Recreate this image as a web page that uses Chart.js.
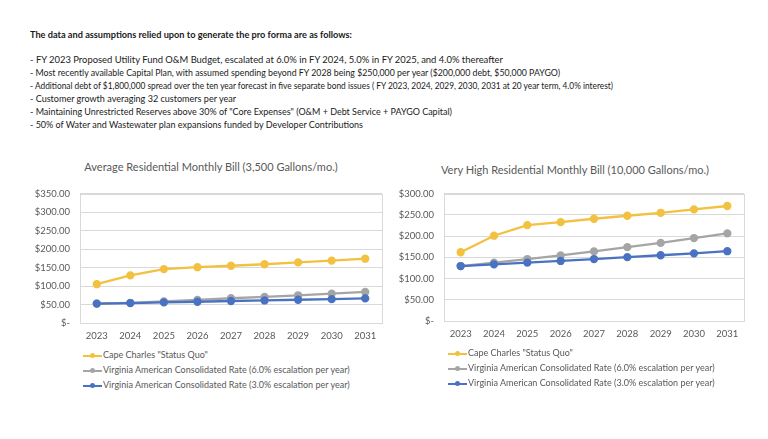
<!DOCTYPE html>
<html>
<head>
<meta charset="utf-8">
<script src="https://cdn.jsdelivr.net/npm/chart.js@4/dist/chart.umd.min.js"></script>
<style>
  body { margin: 0; width: 768px; height: 439px; background: #fff; position: relative; overflow: hidden; font-family: Lato, 'Open Sans', sans-serif; }
  .ln { position: absolute; left: 30px; white-space: nowrap; font-size: 9.5px; color: #1a1a1a; transform-origin: 0 50%; line-height: 12px; }
  .hd { font-weight: bold; }
  .ttl { position: absolute; white-space: nowrap; font-size: 11px; color: #595959; transform: translateX(-50%); line-height: 14px; }
  canvas { position: absolute; }
  .leg { position: absolute; font-size: 9px; color: #595959; }
  .leg div { height: 15px; line-height: 15px; white-space: nowrap; }
  .mk { display: inline-block; position: relative; width: 19px; height: 10px; vertical-align: middle; margin-right: 1px; }
  .mk i { position: absolute; left: 0; right: 0; top: 4px; height: 2px; }
  .mk b { position: absolute; left: 7px; top: 2.5px; width: 5px; height: 5px; border-radius: 50%; }
</style>
</head>
<body>
<div class="ln hd" style="top:29px" data-w="322">The data and assumptions relied upon to generate the pro forma are as follows:</div>
<div class="ln" style="top:54px" data-w="473">- FY 2023 Proposed Utility Fund O&amp;M Budget, escalated at 6.0% in FY 2024, 5.0% in FY 2025, and 4.0% thereafter</div>
<div class="ln" style="top:67px" data-w="530">- Most recently available Capital Plan, with assumed spending beyond FY 2028 being $250,000 per year ($200,000 debt, $50,000 PAYGO)</div>
<div class="ln" style="top:80px" data-w="583">- Additional debt of $1,800,000 spread over the ten year forecast in five separate bond issues ( FY 2023, 2024, 2029, 2030, 2031 at 20 year term, 4.0% interest)</div>
<div class="ln" style="top:93px" data-w="206">- Customer growth averaging 32 customers per year</div>
<div class="ln" style="top:106px" data-w="422">- Maintaining Unrestricted Reserves above 30% of "Core Expenses" (O&amp;M +  Debt Service + PAYGO Capital)</div>
<div class="ln" style="top:119px" data-w="333">- 50% of Water and Wastewater plan expansions funded by Developer Contributions</div>

<div class="ttl" style="left:211px; top:160px">Average Residential Monthly Bill (3,500 Gallons/mo.)</div>
<div class="ttl" style="left:575px; top:163px">Very High Residential Monthly Bill (10,000 Gallons/mo.)</div>

<canvas id="avgChart" width="372" height="167" style="left:20px; top:178px"></canvas>
<canvas id="highChart" width="370" height="167" style="left:385px; top:178px"></canvas>

<div class="leg" id="avgLegend" style="left:83px; top:347px"></div>
<div class="leg" id="highLegend" style="left:448px; top:345px"></div>

<script>
const years = ['2023', '2024', '2025', '2026', '2027', '2028', '2029', '2030', '2031'];
const seriesNames = [
  'Cape Charles "Status Quo"',
  'Virginia American Consolidated Rate (6.0% escalation per year)',
  'Virginia American Consolidated Rate (3.0% escalation per year)'
];
const seriesColors = ['#F3C140', '#A5A5A5', '#4A72C2'];

// average residential bill, 3,500 gallons
const avgStatusQuo = [105, 129, 146, 151, 155, 159, 164, 169, 174];
const avgVa6 = [52.5, 54.5, 58.5, 62.5, 67, 70.5, 75, 79.5, 84];
const avgVa3 = [52.5, 54, 56, 57.5, 59.5, 61, 63, 64.5, 66.5];

// very high residential bill, 10,000 gallons
const highStatusQuo = [162, 201, 226, 233, 241, 248, 255, 263, 271];
const highVa6 = [129.5, 137.5, 146, 154.5, 164, 174, 184, 195.5, 206.5];
const highVa3 = [129.5, 133.5, 137.5, 141.5, 146, 150.5, 155, 159.5, 164.5];

const avgMax = 350;
const highMax = 300;

const tickFont = { family: 'Lato', size: 9.5 };

// light box round the plot area
const frame = {
  id: 'frame',
  beforeDatasetsDraw(chart) {
    const a = chart.chartArea, ctx = chart.ctx;
    ctx.save();
    ctx.strokeStyle = '#d9d9d9';
    ctx.lineWidth = 1;
    ctx.strokeRect(Math.round(a.left) + 0.5, Math.round(a.top) + 0.5, Math.round(a.right - a.left), Math.round(a.bottom - a.top));
    ctx.restore();
  }
};

function money(v) {
  return v === 0 ? '$-' : '$' + v.toFixed(2);
}

function makeChart(el, data, max, yWidth, xHeight, pad) {
  return new Chart(el, {
    type: 'line',
    data: {
      labels: years,
      datasets: data.map((d, i) => ({
        label: seriesNames[i],
        data: d,
        borderColor: seriesColors[i],
        backgroundColor: seriesColors[i],
        borderWidth: 2.3,
        pointRadius: 3,
        pointHoverRadius: 3,
        fill: false,
        tension: 0,
        order: 2 - i
      }))
    },
    options: {
      responsive: false,
      animation: false,
      layout: { padding: pad },
      plugins: { legend: { display: false }, tooltip: { enabled: false } },
      scales: {
        x: {
          offset: true,
          grid: { display: false, drawTicks: false },
          border: { display: false },
          ticks: { color: '#595959', font: tickFont, padding: 7, maxRotation: 0 },
          afterFit(s) { s.height = xHeight; }
        },
        y: {
          min: 0,
          max: max,
          grid: { color: '#d9d9d9', drawTicks: false },
          border: { display: false },
          ticks: { stepSize: 50, color: '#595959', font: tickFont, padding: 10, callback: money },
          afterFit(s) { s.width = yWidth; }
        }
      }
    },
    plugins: [frame]
  });
}

function legend(el) {
  el.innerHTML = seriesNames.map((n, i) =>
    '<div><span class="mk"><i style="background:' + seriesColors[i] + '"></i><b style="background:' + seriesColors[i] + '"></b></span>' +
    n.replace(/&/g, '&amp;').replace(/</g, '&lt;') + '</div>').join('');
}

function fitLines() {
  document.querySelectorAll('.ln').forEach(el => {
    el.style.display = 'inline-block';
    const w = el.getBoundingClientRect().width;
    const target = +el.dataset.w;
    el.style.transform = 'scaleX(' + (target / w) + ')';
  });
}

function draw() {
  fitLines();
  makeChart(avgChart, [avgStatusQuo, avgVa6, avgVa3], avgMax, 60, 22, { top: 8, right: 10, left: 0, bottom: 0 });
  makeChart(highChart, [highStatusQuo, highVa6, highVa3], highMax, 59, 24, { top: 9, right: 11, left: 0, bottom: 0 });
  legend(avgLegend);
  legend(highLegend);
}

if (document.fonts && document.fonts.load) {
  Promise.all([document.fonts.load('9.5px Lato'), document.fonts.load('bold 9.5px Lato')]).then(draw, draw);
} else {
  draw();
}
</script>
</body>
</html>
